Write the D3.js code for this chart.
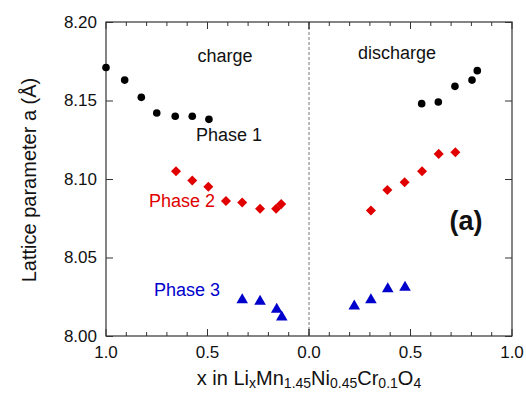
<!DOCTYPE html>
<html><head><meta charset="utf-8">
<script src="https://cdn.jsdelivr.net/npm/d3@7"></script>
<style>body{margin:0;background:#fff}svg{display:block}text{font-family:"Liberation Sans",Arial,sans-serif}</style>
</head><body>
<svg id="c" width="526" height="393"></svg>
<script>
// Data: x in LixMn1.45Ni0.45Cr0.1O4 and lattice parameter a (Å)
const phase1ChargeX = [1.0, 0.908, 0.826, 0.750, 0.659, 0.575, 0.493];
const phase1ChargeA = [8.171, 8.163, 8.152, 8.142, 8.140, 8.140, 8.138];
const phase1DischargeX = [0.555, 0.637, 0.719, 0.803, 0.829];
const phase1DischargeA = [8.148, 8.149, 8.159, 8.163, 8.169];
const phase2ChargeX = [0.655, 0.575, 0.496, 0.409, 0.329, 0.241, 0.162, 0.137];
const phase2ChargeA = [8.105, 8.099, 8.095, 8.086, 8.085, 8.081, 8.081, 8.084];
const phase2DischargeX = [0.305, 0.386, 0.471, 0.557, 0.639, 0.721];
const phase2DischargeA = [8.080, 8.093, 8.098, 8.105, 8.116, 8.117];
const phase3ChargeX = [0.329, 0.241, 0.159, 0.134];
const phase3ChargeA = [8.023, 8.022, 8.017, 8.012];
const phase3DischargeX = [0.223, 0.305, 0.388, 0.473];
const phase3DischargeA = [8.019, 8.023, 8.030, 8.031];
const yTicks = [8.00, 8.05, 8.10, 8.15, 8.20];
const xTickLabels = ["1.0", "0.5", "0.0", "0.5", "1.0"];

const svg = d3.select("#c");
const L = 106, R = 512, T = 22, B = 336, M = (L + R) / 2;
const xc = d3.scaleLinear().domain([1, 0]).range([L, M]);
const xd = d3.scaleLinear().domain([0, 1]).range([M, R]);
const y = d3.scaleLinear().domain([8.00, 8.20]).range([B, T]);
const axisColor = "#333";
const FONT = '"Liberation Sans",Arial,sans-serif';

// dashed line at x = 0
svg.append("line").attr("x1", M).attr("x2", M).attr("y1", T).attr("y2", B)
  .attr("stroke", "#777").attr("stroke-width", 1).attr("stroke-dasharray", "3,2");

// frame
svg.append("rect").attr("x", L).attr("y", T).attr("width", R - L).attr("height", B - T)
  .attr("fill", "none").attr("stroke", axisColor).attr("stroke-width", 1.2);

const minor = d3.range(0, 11).map(i => i / 10);
function xTicks(scale, side) {
  const g = svg.append("g");
  minor.forEach(v => {
    const len = (Math.round(v * 10) % 5 === 0) ? 7 : 4;
    const px = scale(v);
    if (side === "bottom") g.append("line").attr("x1", px).attr("x2", px).attr("y1", B).attr("y2", B - len);
    else g.append("line").attr("x1", px).attr("x2", px).attr("y1", T).attr("y2", T + len);
  });
  g.selectAll("line").attr("stroke", axisColor).attr("stroke-width", 1);
}
xTicks(xc, "bottom"); xTicks(xd, "bottom"); xTicks(xc, "top"); xTicks(xd, "top");

// x tick labels via scales
const labelVals = [[xc, 1.0], [xc, 0.5], [xc, 0.0], [xd, 0.5], [xd, 1.0]];
labelVals.forEach((d, i) => {
  svg.append("text").attr("x", d[0](d[1])).attr("y", 358).attr("text-anchor", "middle")
    .attr("font-size", 17).attr("fill", "#111").text(xTickLabels[i]);
});

// y axis ticks and labels
const yAxisL = d3.axisLeft(y).tickValues(yTicks).tickFormat(d3.format(".2f")).tickSizeInner(-7).tickSizeOuter(0).tickPadding(9);
const gy = svg.append("g").attr("transform", `translate(${L},0)`).call(yAxisL);
gy.select(".domain").remove();
gy.selectAll("line").attr("stroke", axisColor);
gy.selectAll("text").attr("font-size", 17).attr("fill", "#111").attr("font-family", FONT);
const yAxisR = d3.axisRight(y).tickValues(yTicks).tickFormat("").tickSizeInner(-7).tickSizeOuter(0);
const gyr = svg.append("g").attr("transform", `translate(${R},0)`).call(yAxisR);
gyr.select(".domain").remove();
gyr.selectAll("line").attr("stroke", axisColor);

// markers
const red = "#e00000", blue = "#0000cc";
function circles(xs, as, scale) {
  svg.append("g").selectAll("circle").data(xs).join("circle")
    .attr("cx", (d) => scale(d)).attr("cy", (d, i) => y(as[i])).attr("r", 3.8).attr("fill", "#000");
}
function symbols(xs, as, scale, type, size, color) {
  svg.append("g").selectAll("path").data(xs).join("path")
    .attr("d", d3.symbol().type(type).size(size))
    .attr("transform", (d, i) => `translate(${scale(d)},${y(as[i])})`)
    .attr("fill", color);
}
circles(phase1ChargeX, phase1ChargeA, xc);
circles(phase1DischargeX, phase1DischargeA, xd);
symbols(phase2ChargeX, phase2ChargeA, xc, d3.symbolDiamond2, 64, red);
symbols(phase2DischargeX, phase2DischargeA, xd, d3.symbolDiamond2, 64, red);
symbols(phase3ChargeX, phase3ChargeA, xc, d3.symbolTriangle, 58, blue);
symbols(phase3DischargeX, phase3DischargeA, xd, d3.symbolTriangle, 58, blue);

// annotations
function label(x, yy, t, size, color, weight) {
  return svg.append("text").attr("x", x).attr("y", yy).attr("font-size", size)
    .attr("fill", color).attr("font-weight", weight || "normal").attr("text-anchor", "middle").text(t);
}
label(225, 62, "charge", 18, "#111");
label(397, 59, "discharge", 18, "#111");
label(229, 141, "Phase 1", 18, "#111");
label(182, 207, "Phase 2", 18, red);
label(187, 296, "Phase 3", 18, blue);
label(466, 230, "(a)", 27, "#111", "bold");

// axis titles
const xt = svg.append("text").attr("x", M).attr("y", 385).attr("text-anchor", "middle")
  .attr("font-size", 20).attr("fill", "#111");
xt.append("tspan").text("x in Li");
xt.append("tspan").attr("font-size", 14).attr("dy", 3).text("x");
xt.append("tspan").attr("dy", -3).text("Mn");
xt.append("tspan").attr("font-size", 14).attr("dy", 3).text("1.45");
xt.append("tspan").attr("dy", -3).text("Ni");
xt.append("tspan").attr("font-size", 14).attr("dy", 3).text("0.45");
xt.append("tspan").attr("dy", -3).text("Cr");
xt.append("tspan").attr("font-size", 14).attr("dy", 3).text("0.1");
xt.append("tspan").attr("dy", -3).text("O");
xt.append("tspan").attr("font-size", 14).attr("dy", 3).text("4");

svg.append("text").attr("transform", "translate(36,180) rotate(-90)").attr("text-anchor", "middle")
  .attr("font-size", 20).attr("fill", "#111").text("Lattice parameter a (Å)");
</script>
</body></html>
